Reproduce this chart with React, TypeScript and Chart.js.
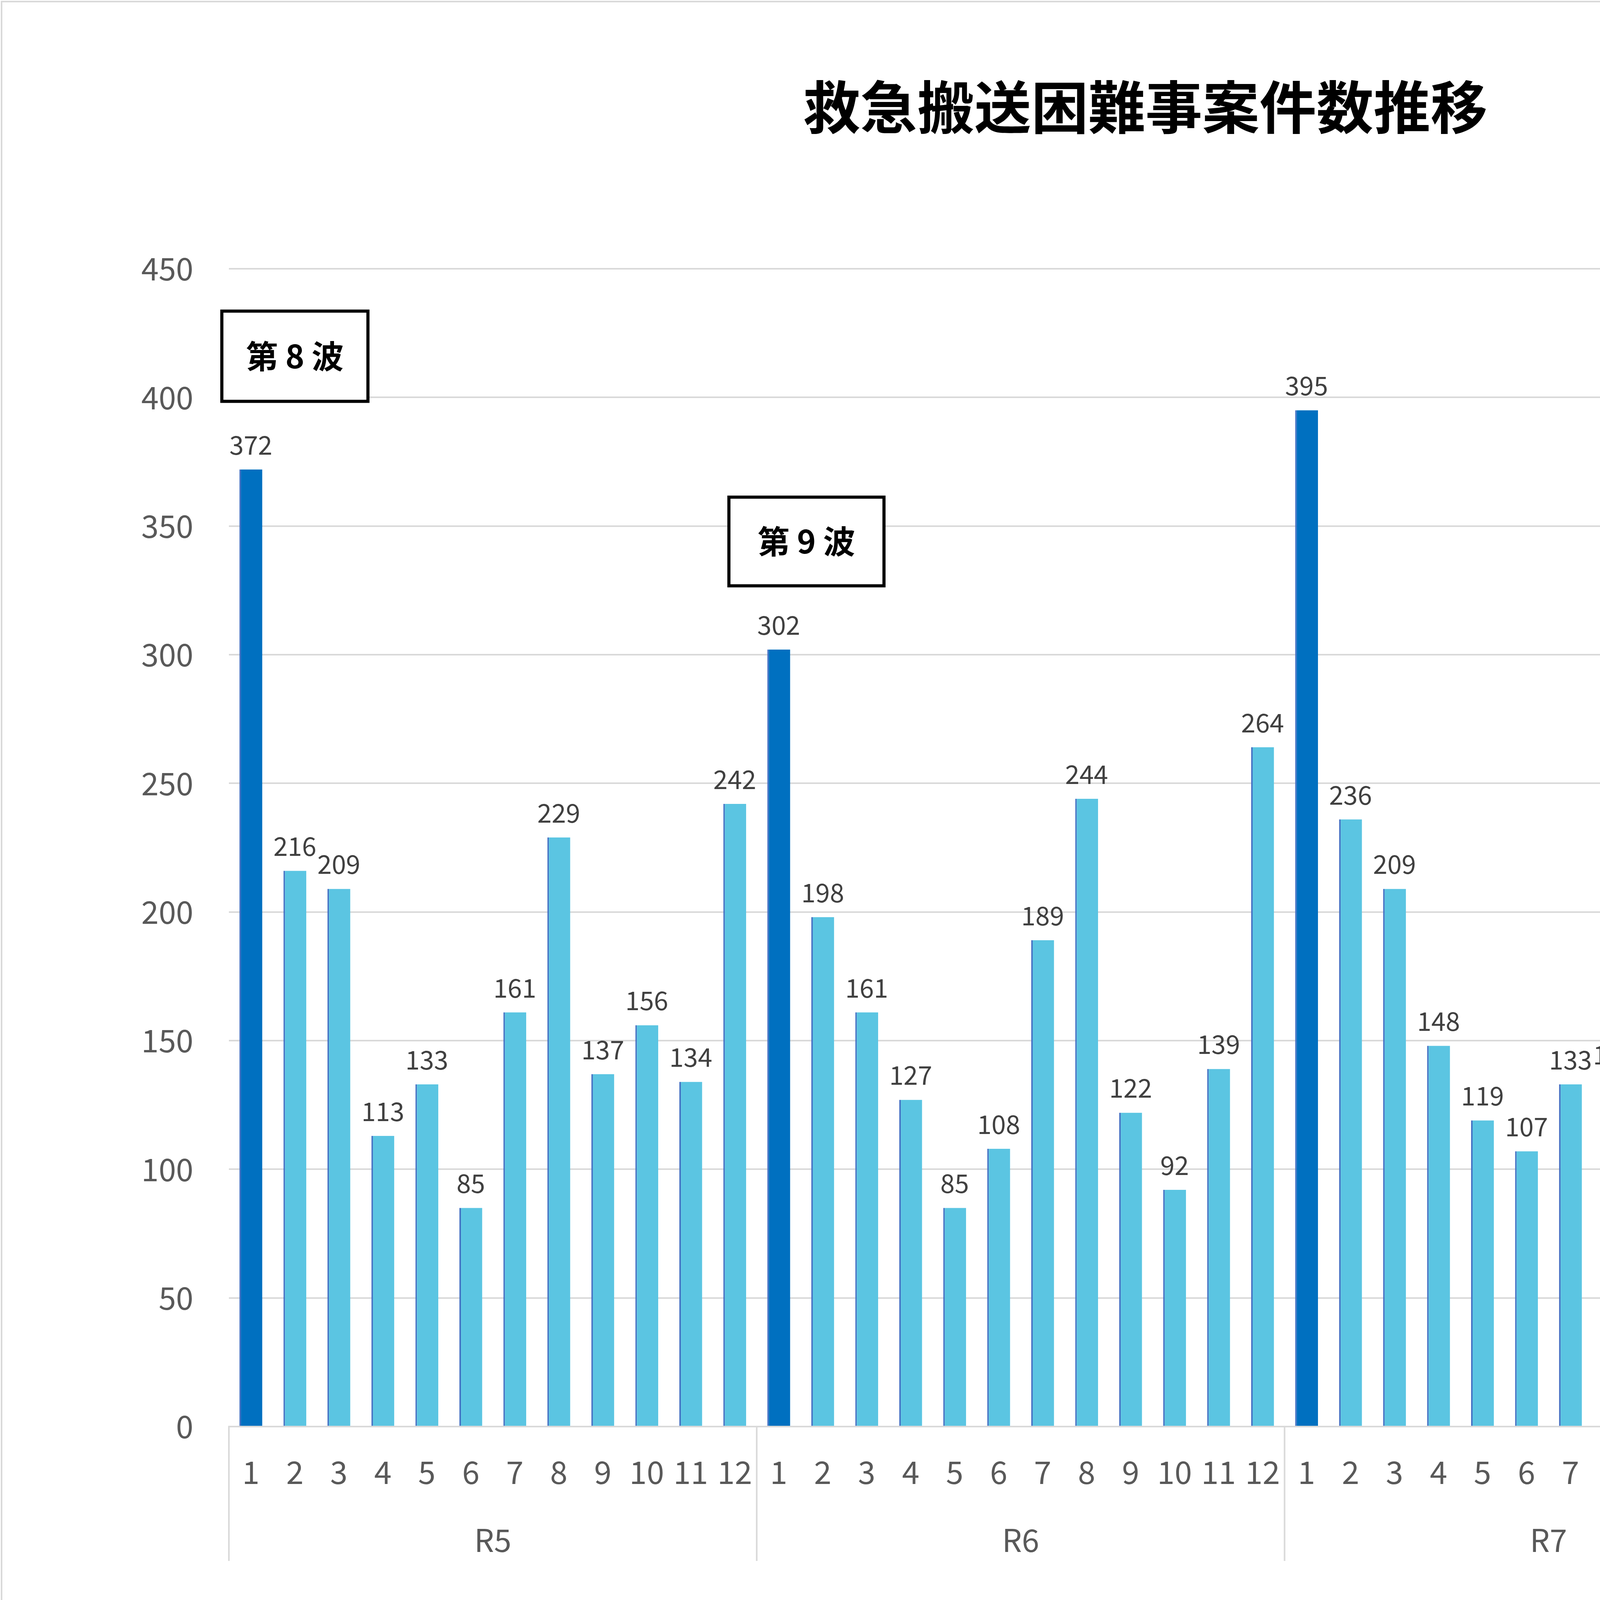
import React, { useEffect, useRef } from 'react';
import { Chart, registerables } from 'chart.js';

Chart.register(...registerables);

// ---------- data ----------
const TITLE = '救急搬送困難事案件数推移';
const yearLabels = ['R5', 'R6', 'R7', 'R8'];
const r5Values = [372, 216, 209, 113, 133, 85, 161, 229, 137, 156, 134, 242];
const r6Values = [302, 198, 161, 127, 85, 108, 189, 244, 122, 92, 139, 264];
const r7Values = [395, 236, 209, 148, 119, 107, 133, 135, 109, 72, 101, 129];
const r8Values = [151, 114, 105, 77, 64, 61, 88];
const yearValues = [r5Values, r6Values, r7Values, r8Values];
const monthLabels = ['1', '2', '3', '4', '5', '6', '7', '8', '9', '10', '11', '12'];
const yTickValues = [0, 50, 100, 150, 200, 250, 300, 350, 400, 450];
// bars drawn in the darker colour: [year index, month index]
const darkBars = [[0, 0], [1, 0], [2, 0]];
// value labels drawn in bold: [year index, month index]
const boldValueLabels = [[3, 5]];
const waveLabels = ['第 8 波', '第 9 波'];

// ---------- layout / style (not data) ----------
const W = 5928;
const H = 4259;
const FONT = '"Noto Sans CJK JP", "Noto Sans", sans-serif';
const DARK = '#0070C0';
const LIGHT = '#5BC5E2';
const EDGE = '#4472C4';
const GRID = '#D9D9D9';
const AXIS_TEXT = '#595959';
const LABEL_TEXT = '#404040';
// annotation boxes: centre in (category-index, value) space and pixel size
const waveBoxes = [
  { cat: 1.0, val: 416, w: 374, h: 231 },
  { cat: 12.63, val: 344, w: 397, h: 227 },
];

const labels: string[] = [];
const values: number[] = [];
const keys: string[] = [];
yearValues.forEach((arr, yi) => {
  arr.forEach((v, mi) => {
    labels.push(monthLabels[mi]);
    values.push(v);
    keys.push(`${yi}-${mi}`);
  });
});
const darkSet = new Set(darkBars.map(([a, b]) => `${a}-${b}`));
const boldSet = new Set(boldValueLabels.map(([a, b]) => `${a}-${b}`));

const decorPlugin = {
  id: 'decor',
  afterDatasetsDraw(chart: any) {
    const ctx = chart.ctx;
    const meta = chart.getDatasetMeta(0);
    ctx.save();
    ctx.textAlign = 'center';
    ctx.textBaseline = 'alphabetic';
    ctx.fillStyle = LABEL_TEXT;
    meta.data.forEach((bar: any, i: number) => {
      const bold = boldSet.has(keys[i]);
      ctx.font = `${bold ? 'bold ' : ''}66px ${FONT}`;
      ctx.fillText(String(values[i]), bar.x, bar.y - 38);
    });
    ctx.restore();
  },
  afterDraw(chart: any) {
    const ctx = chart.ctx;
    const xs = chart.scales.x;
    const ys = chart.scales.y;
    const catW = xs.getPixelForValue(1) - xs.getPixelForValue(0);
    const base = ys.getPixelForValue(0);
    ctx.save();

    // outer chart border
    ctx.strokeStyle = GRID;
    ctx.lineWidth = 4;
    ctx.strokeRect(4, 4, W - 8, H - 8);

    // title
    ctx.fillStyle = '#000000';
    ctx.font = `bold 146px ${FONT}`;
    ctx.textAlign = 'center';
    ctx.textBaseline = 'middle';
    ctx.fillText(TITLE, 2932, 274);

    // year groups + separators
    let start = 0;
    const bottom = 3996;
    ctx.strokeStyle = GRID;
    ctx.lineWidth = 4;
    const bounds: number[] = [];
    yearValues.forEach((arr) => {
      bounds.push(start);
      start += arr.length;
    });
    bounds.push(start);
    bounds.forEach((b) => {
      const px = xs.getPixelForValue(0) - catW / 2 + b * catW;
      ctx.beginPath();
      ctx.moveTo(px, base);
      ctx.lineTo(px, bottom);
      ctx.stroke();
    });
    ctx.fillStyle = AXIS_TEXT;
    ctx.font = `80px ${FONT}`;
    yearLabels.forEach((lab, i) => {
      const a = xs.getPixelForValue(0) - catW / 2 + bounds[i] * catW;
      const b = xs.getPixelForValue(0) - catW / 2 + bounds[i + 1] * catW;
      ctx.fillText(lab, (a + b) / 2, 3943);
    });

    // wave annotation boxes
    waveBoxes.forEach((bx, i) => {
      const cx = xs.getPixelForValue(0) + bx.cat * catW;
      const cy = ys.getPixelForValue(bx.val);
      ctx.fillStyle = '#FFFFFF';
      ctx.fillRect(cx - bx.w / 2, cy - bx.h / 2, bx.w, bx.h);
      ctx.strokeStyle = '#000000';
      ctx.lineWidth = 8;
      ctx.strokeRect(cx - bx.w / 2, cy - bx.h / 2, bx.w, bx.h);
      ctx.fillStyle = '#000000';
      ctx.font = `bold 82px ${FONT}`;
      ctx.textAlign = 'center';
      ctx.textBaseline = 'middle';
      ctx.fillText(waveLabels[i], cx, cy);
    });
    ctx.restore();
  },
};

export default function App() {
  const ref = useRef<HTMLCanvasElement | null>(null);
  useEffect(() => {
    if (!ref.current) return;
    const chart = new Chart(ref.current, {
      type: 'bar',
      data: {
        labels,
        datasets: [
          {
            data: values,
            backgroundColor: keys.map((k) => (darkSet.has(k) ? DARK : LIGHT)),
            borderColor: EDGE,
            borderWidth: { left: 4, top: 0, right: 0, bottom: 0 },
            borderSkipped: false,
            barPercentage: 0.52,
            categoryPercentage: 1,
          },
        ],
      },
      options: {
        responsive: false,
        animation: false,
        devicePixelRatio: 1,
        layout: { padding: { left: 0, right: 500, top: 688, bottom: 207 } },
        plugins: {
          legend: { display: false },
          tooltip: { enabled: false },
          title: { display: false },
        },
        scales: {
          x: {
            offset: true,
            grid: { display: false, drawTicks: false },
            border: { display: true, color: GRID, width: 4 },
            ticks: {
              autoSkip: false,
              maxRotation: 0,
              minRotation: 0,
              padding: 69,
              color: AXIS_TEXT,
              font: { family: FONT, size: 80 },
            },
            afterFit: (s: any) => {
              s.height = 400;
              s.paddingLeft = 0;
              s.paddingRight = 0;
            },
          },
          y: {
            min: 0,
            max: 450,
            afterBuildTicks: (s: any) => {
              s.ticks = yTickValues.map((v) => ({ value: v }));
            },
            ticks: {
              padding: 91,
              color: AXIS_TEXT,
              font: { family: FONT, size: 80 },
            },
            grid: { color: GRID, lineWidth: 4, drawTicks: false },
            border: { display: false },
            afterFit: (s: any) => {
              s.width = 586;
              s.paddingTop = 0;
              s.paddingBottom = 0;
            },
          },
        },
      },
      plugins: [decorPlugin],
    } as any);
    return () => chart.destroy();
  }, []);
  return (
    <div style={{ position: 'fixed', left: 0, top: 0, width: W, height: H, background: '#FFFFFF' }}>
      <canvas ref={ref} width={W} height={H} style={{ width: W, height: H, display: 'block' }} />
    </div>
  );
}
